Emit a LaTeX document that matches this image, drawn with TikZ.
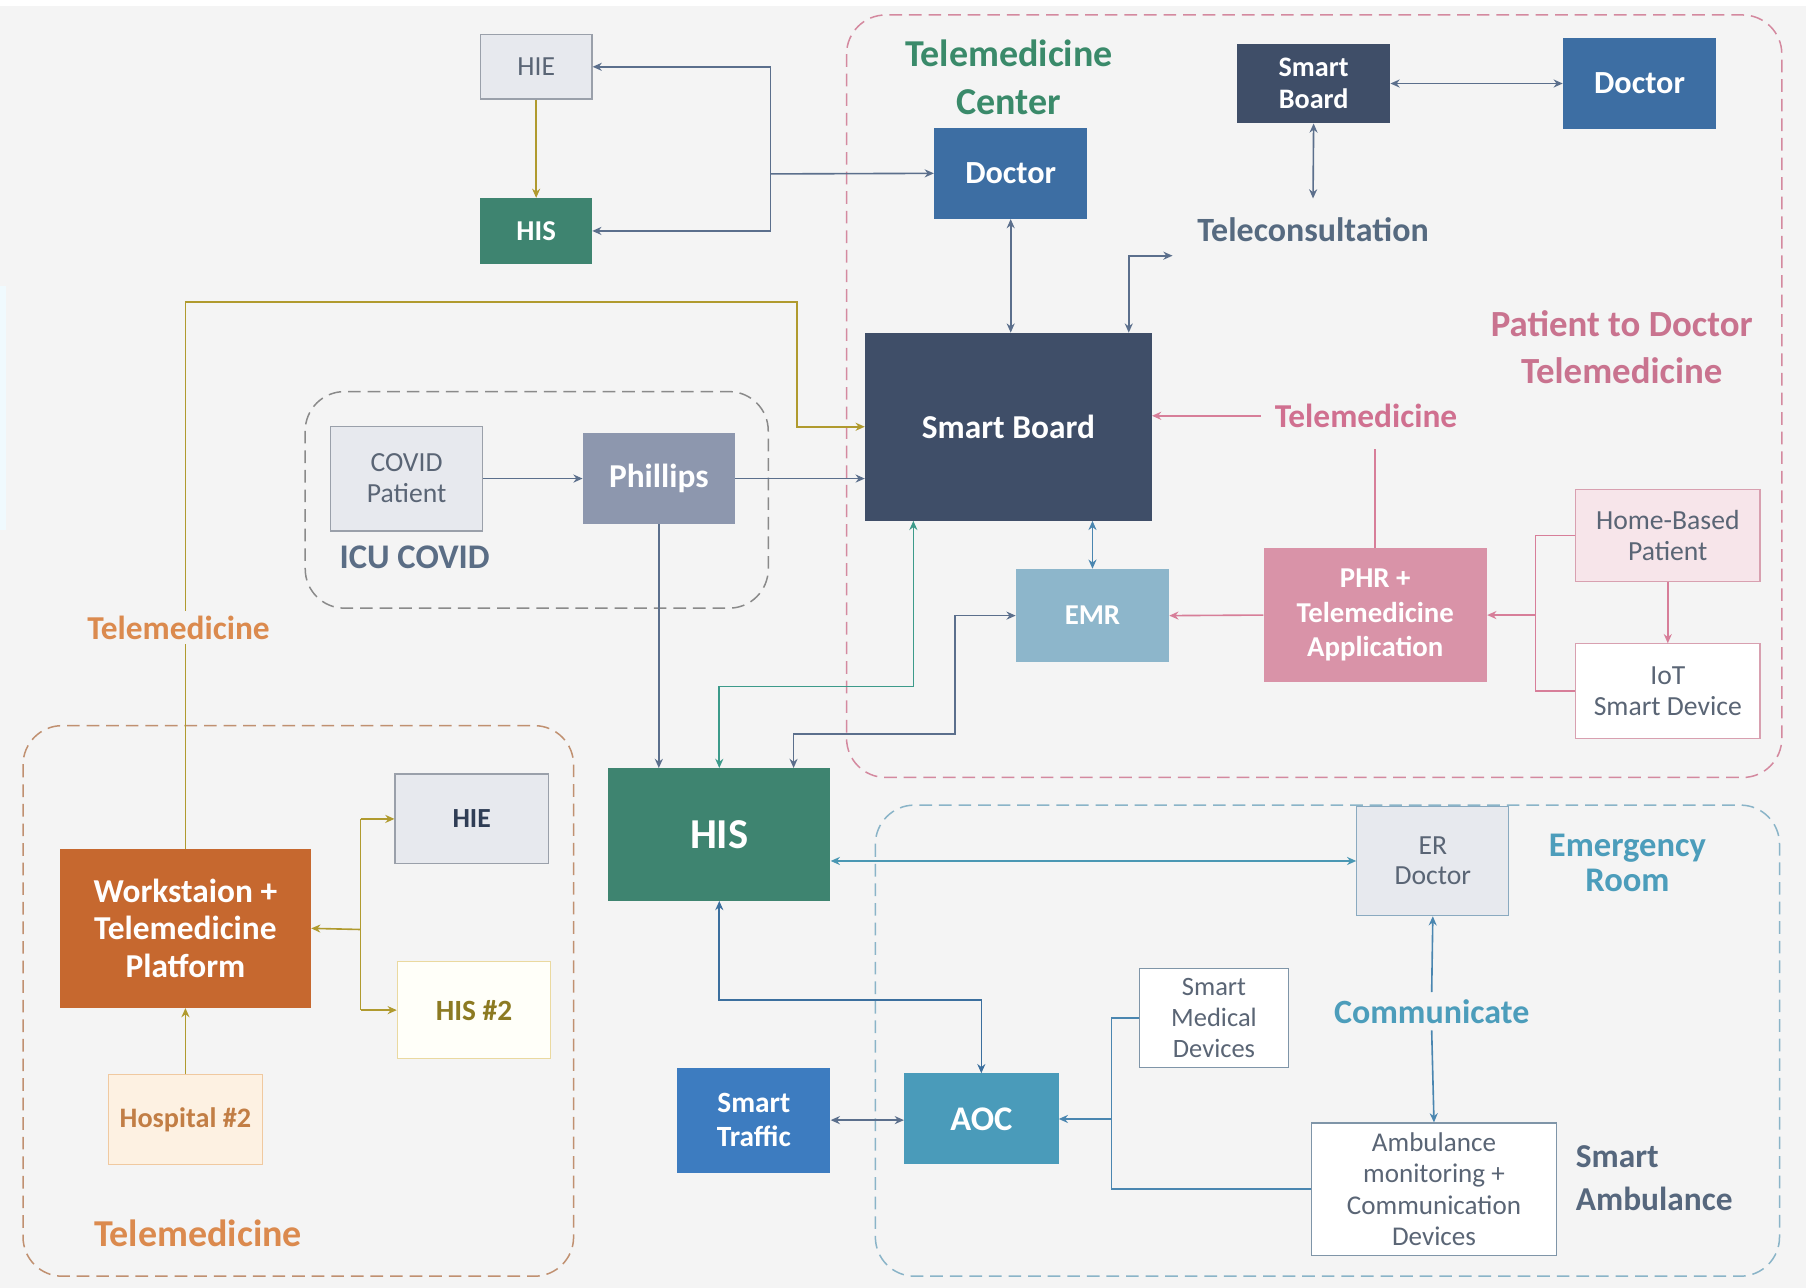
\documentclass[tikz,border=0pt]{standalone}
\usepackage{fontspec}
\setmainfont{Carlito}
\usetikzlibrary{arrows.meta}

% palette
\definecolor{bgc}{HTML}{F4F4F4}
\definecolor{hisgreen}{HTML}{3E8470}
\definecolor{docblue}{HTML}{3D6EA3}
\definecolor{boarddark}{HTML}{3F4E68}
\definecolor{emrblue}{HTML}{8DB6CB}
\definecolor{phrpink}{HTML}{D993A8}
\definecolor{philgrey}{HTML}{8D97AE}
\definecolor{workorange}{HTML}{C6682F}
\definecolor{trafficblue}{HTML}{3D7CC0}
\definecolor{aocblue}{HTML}{4A9BBA}
\definecolor{lightgrey}{HTML}{E7E9EE}
\definecolor{greyedge}{HTML}{9AA0AA}
\definecolor{textgrey}{HTML}{5A6575}
\definecolor{homepink}{HTML}{F7E5EA}
\definecolor{pinkedge}{HTML}{D8A0B0}
\definecolor{hospfill}{HTML}{FDF1E2}
\definecolor{hospedge}{HTML}{F0C9A0}
\definecolor{hosptext}{HTML}{C27E45}
\definecolor{his2fill}{HTML}{FFFFF9}
\definecolor{his2edge}{HTML}{EAD9A0}
\definecolor{his2text}{HTML}{8C7A22}
\definecolor{eredge}{HTML}{8AAAC0}
\definecolor{devedge}{HTML}{7F95A8}
\definecolor{navytext}{HTML}{2F3D55}
% connector colours
\definecolor{slateline}{HTML}{5B6F8C}
\definecolor{tealline}{HTML}{3C9A8A}
\definecolor{pinkline}{HTML}{D77E99}
\definecolor{oliveline}{HTML}{B09A2E}
\definecolor{blueline}{HTML}{4A86B0}
\definecolor{aocline}{HTML}{3B6F9E}
\definecolor{erline}{HTML}{4A97B3}
% label colours
\definecolor{centergreen}{HTML}{3A8A6A}
\definecolor{consultgrey}{HTML}{566A80}
\definecolor{p2dpink}{HTML}{C9738F}
\definecolor{midpink}{HTML}{D07090}
\definecolor{icugrey}{HTML}{5A6D85}
\definecolor{orangelabel}{HTML}{DB8A4E}
\definecolor{erlabel}{HTML}{4C9DBB}
\definecolor{ambgrey}{HTML}{56677D}
% region outlines
\definecolor{p2dedge}{HTML}{D4899F}
\definecolor{icuedge}{HTML}{8A8A8A}
\definecolor{teleedge}{HTML}{C09070}
\definecolor{eredgeline}{HTML}{8AB4C8}

\newcommand{\fs}[2]{\fontsize{#1}{#2}\selectfont}

\tikzset{
  x=1pt, y=-1pt,
  box/.style={rectangle, inner sep=0pt, align=center},
  solidbox/.style={box, text=white, font=\bfseries\fs{28}{32}},
  thinbox/.style={box, draw, line width=1pt, text=textgrey, font=\fs{24}{27}},
  lbl/.style={inner sep=2pt, align=center, font=\bfseries\fs{29}{34}},
  region/.style={rounded corners=34pt, dash pattern=on 11pt off 6pt, line width=1.3pt},
  conn/.style={line width=1.4pt},
  arr/.style={conn, -{Stealth[length=8pt,width=7pt]}},
  darr/.style={conn, {Stealth[length=8pt,width=7pt]}-{Stealth[length=8pt,width=7pt]}},
}

\begin{document}
\begin{tikzpicture}
% canvas
\useasboundingbox (0,0) rectangle (1568,1118);
\fill[bgc] (0,0) rectangle (1568,1118);
\fill[white] (0,0) rectangle (1568,5);
\fill[cyan!6] (0,248) rectangle (5,460);

% grouping regions
\draw[region, p2dedge] (735,13) rectangle (1547,675);
\draw[region, icuedge] (265,340) rectangle (667,528);
\draw[region, teleedge] (20,630) rectangle (498,1108);
\draw[region, eredgeline] (760,699) rectangle (1545,1108);

% upper hospital
\node[thinbox, fill=lightgrey, draw=greyedge, minimum width=97pt, minimum height=56pt] (hieTop) at (465.5,58) {HIE};
\node[solidbox, fill=hisgreen, minimum width=97pt, minimum height=57pt, font=\bfseries\fs{25}{28}] (hisTop) at (465.5,200.5) {HIS};

% telemedicine center
\node[lbl, text=centergreen, font=\bfseries\fs{33}{42}] (tmCenter) at (876,67) {Telemedicine\\Center};
\node[solidbox, fill=docblue, minimum width=133pt, minimum height=79pt] (docC) at (877.5,150.5) {Doctor};
\node[solidbox, fill=boarddark, minimum width=133pt, minimum height=69pt, font=\bfseries\fs{24.5}{28}] (sbSmall) at (1140.5,72.5) {Smart\\Board};
\node[solidbox, fill=docblue, minimum width=133pt, minimum height=79pt] (docR) at (1423.5,72.5) {Doctor};
\node[lbl, text=consultgrey, font=\bfseries\fs{29.5}{32}] (teleconsult) at (1140,199) {Teleconsultation};
\node[lbl, text=p2dpink, font=\bfseries\fs{32}{41}] (p2d) at (1408,301.5) {Patient to Doctor\\Telemedicine};
\node[solidbox, fill=boarddark, minimum width=249pt, minimum height=163pt, font=\bfseries\fs{29}{32}] (sbBig) at (875.5,370.5) {Smart Board};
\node[lbl, text=midpink, inner sep=12pt] (telePink) at (1186,361) {Telemedicine};
\node[solidbox, fill=phrpink, minimum width=194pt, minimum height=116pt, font=\bfseries\fs{25}{30}] (phr) at (1194,534) {PHR +\\Telemedicine\\Application};
\node[solidbox, fill=emrblue, minimum width=133pt, minimum height=81pt, font=\bfseries\fs{25}{28}] (emr) at (948.5,534.5) {EMR};
\node[thinbox, fill=homepink, draw=pinkedge, minimum width=160pt, minimum height=80pt] (home) at (1448,465) {Home-Based\\Patient};
\node[thinbox, fill=white, draw=pinkedge, minimum width=160pt, minimum height=82pt] (iot) at (1448,600) {IoT\\Smart Device};

% ICU COVID
\node[thinbox, fill=lightgrey, draw=greyedge, minimum width=132pt, minimum height=91pt] (covid) at (353,415.5) {COVID\\Patient};
\node[solidbox, fill=philgrey, minimum width=132pt, minimum height=79pt, font=\bfseries\fs{29}{32}] (phil) at (572,415.5) {Phillips};
\node[lbl, text=icugrey, font=\bfseries\fs{30}{34}] (icu) at (360,484) {ICU COVID};

% second hospital telemedicine
\node[solidbox, fill=workorange, minimum width=218pt, minimum height=138pt, font=\bfseries\fs{29}{32.5}] (work) at (161,806) {Workstaion +\\Telemedicine\\Platform};
\node[box, fill=lightgrey, draw=greyedge, line width=1pt, minimum width=133pt, minimum height=78pt, text=navytext, font=\bfseries\fs{24}{28}] (hieL) at (409.5,711) {HIE};
\node[box, fill=his2fill, draw=his2edge, line width=1pt, minimum width=133pt, minimum height=84pt, text=his2text, font=\bfseries\fs{25.5}{28}] (his2) at (411.5,877) {HIS \#2};
\node[box, fill=hospfill, draw=hospedge, line width=1pt, minimum width=134pt, minimum height=78pt, text=hosptext, font=\bfseries\fs{24.5}{28}] (hosp) at (161,972) {Hospital \#2};
\node[lbl, text=orangelabel, font=\bfseries\fs{33}{36}] (teleBottom) at (172,1071) {Telemedicine};

% main hospital system and ambulance side
\node[solidbox, fill=hisgreen, minimum width=193pt, minimum height=115pt, font=\bfseries\fs{37}{40}] (hisBig) at (624.5,724.5) {HIS};
\node[solidbox, fill=trafficblue, minimum width=133pt, minimum height=91pt, font=\bfseries\fs{25.5}{29}] (traffic) at (654.5,972.5) {Smart\\Traffic};
\node[solidbox, fill=aocblue, minimum width=134pt, minimum height=79pt, font=\bfseries\fs{30}{32}] (aoc) at (852,971.5) {AOC};
\node[thinbox, fill=lightgrey, draw=eredge, minimum width=132pt, minimum height=95pt, font=\fs{24}{26}] (erdoc) at (1244,747.5) {ER\\Doctor};
\node[lbl, text=erlabel, font=\bfseries\fs{30}{30}] (erLabel) at (1413,749) {Emergency\\Room};
\node[thinbox, fill=white, draw=devedge, minimum width=130pt, minimum height=86pt, font=\fs{23}{27}] (smd) at (1054,884) {Smart\\Medical\\Devices};
\node[thinbox, fill=white, draw=devedge, minimum width=212pt, minimum height=115pt, font=\fs{23.5}{27}] (amb) at (1245,1032.5) {Ambulance\\monitoring +\\Communication\\Devices};
\node[lbl, text=erlabel, inner sep=6pt, font=\bfseries\fs{29.5}{34}] (communicate) at (1243,878) {Communicate};
\node[lbl, text=ambgrey, align=left, anchor=west, font=\bfseries\fs{29}{37}] (smartAmb) at (1366,1023) {Smart\\Ambulance};

% junction points
\coordinate (jTop) at (669,151);
\coordinate (tc1) at (980,222);
\coordinate (tcEnd) at (1018,222);
\coordinate (tp) at (1194,390);
\coordinate (hj) at (1333,534);
\coordinate (tk1) at (793,596);
\coordinate (ek1) at (689,637);
\coordinate (ek2) at (829,637);
\coordinate (ok1) at (161,262);
\coordinate (ok2) at (692,262);
\coordinate (wj) at (313,807);
\coordinate (ay) at (852,868);
\coordinate (aj) at (965,971.5);

% upper hospital links
\draw[conn, slateline] (jTop |- hieTop.east) -- (jTop |- hisTop.east);
\draw[arr, slateline] (jTop) -- (docC.west);
\draw[arr, slateline] (jTop |- hieTop.east) -- (hieTop.east);
\draw[arr, slateline] (jTop |- hisTop.east) -- (hisTop.east);
\draw[arr, oliveline] (hieTop.south) -- (hisTop.north);

% telemedicine center links
\draw[darr, slateline] (docC.south) -- (docC.south |- sbBig.north);
\draw[darr, slateline] (sbSmall.south) -- ([yshift=14pt]teleconsult.north);
\draw[darr, slateline] (sbSmall.east) -- (sbSmall.east -| docR.west);
\draw[darr, slateline] (tc1 |- sbBig.north) -- (tc1) -- (tcEnd);
\draw[arr, pinkline] (telePink.west) -- (telePink.west -| sbBig.east);
\draw[conn, pinkline] (phr.north) -- (tp);
\draw[arr, pinkline] (phr.west) -- (emr.east);
\draw[conn, pinkline] (home.west) -- (home.west -| hj) -- (iot.west -| hj) -- (iot.west);
\draw[arr, pinkline] (hj) -- (phr.east);
\draw[arr, pinkline] (home.south) -- (iot.north);
\draw[darr, blueline] (emr.north) -- (emr.north |- sbBig.south);

% ICU links
\draw[arr, slateline] (covid.east) -- (phil.west);
\draw[arr, slateline] (phil.east) -- (phil.east -| sbBig.west);
\draw[arr, slateline] (phil.south) -- (phil.south |- hisBig.north);

% HIS to the center
\draw[darr, tealline] (tk1 |- sbBig.south) -- (tk1) -| (hisBig.north);
\draw[darr, slateline] (ek1 |- hisBig.north) -- (ek1) -- (ek2) |- (emr.west);

% second hospital: the long link runs behind its label
\draw[arr, oliveline] (work.north) -- (ok1) -- (ok2) |- (sbBig.west);
\node[lbl, text=orangelabel, fill=bgc, inner sep=4pt] (teleOrange) at (155,545) {Telemedicine};
\draw[conn, oliveline] (wj |- hieL.west) -- (wj |- his2.west);
\draw[arr, oliveline] (wj) -- (work.east);
\draw[arr, oliveline] (wj |- hieL.west) -- (hieL.west);
\draw[arr, oliveline] (wj |- his2.west) -- (his2.west);
\draw[arr, oliveline] (hosp.north) -- (work.south);

% emergency side
\draw[darr, erline] (erdoc.west -| hisBig.east) -- (erdoc.west);
\draw[darr, aocline] (hisBig.south) |- (ay) -- (aoc.north);
\draw[darr, slateline] (traffic.east) -- (traffic.east -| aoc.west);
\draw[conn, blueline] (smd.west) -- (smd.west -| aj) -- (amb.west -| aj) -- (amb.west);
\draw[arr, blueline] (aj) -- (aoc.east);
\draw[arr, blueline] (communicate.north) -- (erdoc.south);
\draw[arr, blueline] (communicate.south) -- (amb.north);
\end{tikzpicture}
\end{document}
